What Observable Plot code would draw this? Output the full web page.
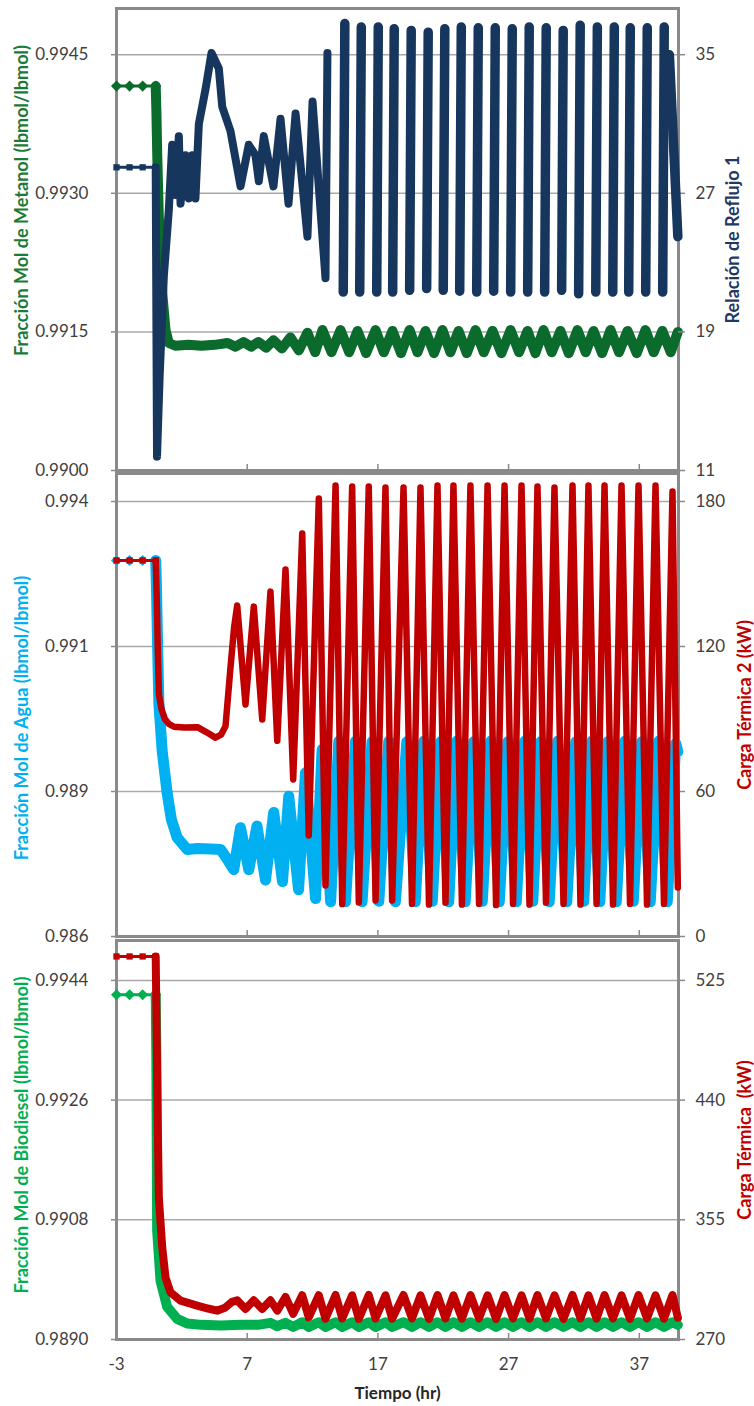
<!DOCTYPE html>
<html><head><meta charset="utf-8">
<script src="https://cdn.jsdelivr.net/npm/d3@7"></script>
<script src="https://cdn.jsdelivr.net/npm/@observablehq/plot@0.6"></script>
<style>
body{margin:0;background:#fff;}
#chart{position:relative;width:754px;height:1406px;}
#chart svg{position:absolute;left:0;}
</style></head><body><div id="chart"></div>
<script>
// ---------- shared axis values ----------
const xDomain = [-3, 40];
const xTicks = [-3, 7, 17, 27, 37];
const xInnerTicks = [7, 17, 27, 37];

// ---------- panel 1 : metanol / reflujo ----------
const metanolTicks = [0.99, 0.9915, 0.993, 0.9945];
const reflujoTicks = [11, 19, 27, 35];
const metanolInit = [[-3,0.99416],[-2,0.99416],[-1,0.99416],[0,0.99416]];
const metanol = [[0,0.99416],[0.05,0.9939],[0.12,0.9934],[0.24,0.99274],[0.5,0.99192],[0.75,0.99152],[1.0,0.99138],[1.5,0.99135],[2.5,0.99136],[3.5,0.99135],[4.5,0.99136],[5.5,0.99138],[6.1,0.99134],[6.72,0.99139],[7.3,0.99134],[7.86,0.99139],[8.45,0.99133],[9.01,0.99141],[9.65,0.99132],[10.31,0.99144],[10.95,0.9913],[11.61,0.99149],[12.2,0.99128],[12.76,0.99152],[13.45,0.99128],[14.14,0.99152],[14.8,0.99128],[15.44,0.99151],[16.1,0.99127],[16.82,0.99152],[17.45,0.99128],[18.12,0.99151],[18.77,0.99127],[19.42,0.99152],[20.03,0.99128],[20.64,0.99151],[21.3,0.99127],[21.94,0.99152],[22.55,0.99128],[23.17,0.99151],[23.8,0.99127],[24.47,0.99152],[25.1,0.99128],[25.77,0.99151],[26.45,0.99127],[27.15,0.99152],[27.8,0.99128],[28.45,0.99151],[29.05,0.99127],[29.67,0.99152],[30.3,0.99128],[30.97,0.99151],[31.6,0.99127],[32.27,0.99152],[32.9,0.99128],[33.5,0.99151],[34.15,0.99127],[34.8,0.99152],[35.45,0.99128],[36.1,0.99151],[36.8,0.99127],[37.47,0.99152],[38.1,0.99128],[38.77,0.99151],[39.4,0.99128],[39.95,0.9915]];
const reflujoInit = [[-3,28.5],[-2,28.5],[-1,28.5],[0,28.5]];
const reflujo = [[0,28.5],[0.05,20.0],[0.1,11.8],[0.3,16.4],[0.62,22.2],[1.0,26.0],[1.26,29.8],[1.51,26.9],[1.77,30.3],[1.9,26.4],[2.28,29.2],[2.53,26.7],[2.79,29.2],[3.04,26.7],[3.3,31.0],[3.81,33.0],[4.27,35.1],[4.83,34.2],[5.09,32.0],[5.72,30.6],[6.49,27.4],[7.12,29.8],[7.63,29.2],[7.89,27.7],[8.27,30.3],[9.01,27.4],[9.55,31.3],[10.16,26.4],[10.7,31.6],[11.61,24.5],[12.0,32.3],[12.99,22.1],[13.14,35.1]];
// [time at top, peak, time at bottom, trough] of each reflux stroke
const reflujoStrokes = [[14.47,36.8,14.35,21.3],[15.73,36.6,15.61,21.3],[17.03,36.6,16.91,21.3],[18.25,36.5,18.13,21.3],[19.55,36.4,19.43,21.4],[20.85,36.3,20.73,21.5],[22.12,36.5,22.0,21.4],[23.38,36.6,23.26,21.35],[24.68,36.55,24.56,21.3],[25.98,36.55,25.86,21.35],[27.28,36.5,27.16,21.3],[28.58,36.6,28.46,21.3],[29.88,36.55,29.76,21.3],[31.18,36.4,31.06,21.4],[32.48,36.7,32.36,21.2],[33.79,36.6,33.67,21.3],[35.09,36.6,34.97,21.3],[36.31,36.55,36.19,21.3],[37.61,36.55,37.49,21.3],[38.91,36.6,38.79,21.3],[39.3,35.0,39.95,24.5]];

// ---------- panel 2 : agua / carga termica 2 ----------
const aguaTicks = [0.986, 0.9886667, 0.9913333, 0.994];
const carga2Ticks = [0, 60, 120, 180];
const aguaInit = [[-3,0.992915],[-2,0.992915],[-1,0.992915],[0,0.992915]];
const agua = [[0,0.992915],[0.05,0.9925],[0.15,0.9913],[0.24,0.99029],[0.5,0.9894],[0.88,0.98863],[1.2,0.98815],[1.64,0.98782],[2.41,0.9876],[3.2,0.98762],[4.2,0.98761],[4.96,0.9876],[5.4,0.98745],[5.97,0.98723],[6.49,0.988],[7.12,0.98723],[7.75,0.98803],[8.4,0.98704],[9.03,0.98828],[9.7,0.98701],[10.18,0.98858],[10.93,0.98686],[11.46,0.98901],[12.23,0.9867],[12.73,0.98944],[13.38,0.98664],[14.01,0.98959],[14.52,0.98664],[15.28,0.98959],[15.79,0.98664],[16.55,0.98958],[17.07,0.98665],[17.83,0.98959],[18.34,0.98664],[19.21,0.98958],[19.86,0.98664],[20.51,0.98959],[21.16,0.98665],[21.81,0.98958],[22.42,0.98664],[23.03,0.98959],[23.68,0.98664],[24.33,0.98958],[24.99,0.98665],[25.64,0.98959],[26.29,0.98664],[26.94,0.98958],[27.59,0.98664],[28.24,0.98959],[28.85,0.98665],[29.46,0.98958],[30.11,0.98664],[30.76,0.98959],[31.45,0.98664],[32.14,0.98958],[32.75,0.98665],[33.36,0.98959],[33.98,0.98664],[34.59,0.98958],[35.24,0.98664],[35.89,0.98959],[36.54,0.98665],[37.19,0.98958],[37.84,0.98664],[38.49,0.98959],[39.14,0.98664],[39.79,0.98955],[39.95,0.9894]];
const carga2Init = [[-3,155.6],[-2,155.6],[-1,155.6],[0,155.6]];
const carga2 = [[0,155.6],[0.08,140],[0.16,118],[0.25,100],[0.45,94],[0.7,90],[1.0,88],[1.4,86.8],[2.2,86.5],[3.2,86.6],[3.9,84.5],[4.57,82.3],[5.0,83.5],[5.34,87],[5.7,110],[6.0,128],[6.235,137.0],[6.87,96.0],[7.505,136.5],[8.15,89.8],[8.78,142.7],[9.3,81.0],[9.93,151.9],[10.52,65.0],[11.21,166.8],[11.71,41.8],[12.48,181.2],[12.99,21.1],[13.76,186.6],[14.27,13.4],[15.03,186.2],[15.54,14.1],[16.3,186.2],[16.82,14.9],[17.58,185.8],[18.09,14.9],[18.96,185.8],[19.61,13.5],[20.26,185.8],[20.91,13.2],[21.56,186.6],[22.17,14.0],[22.78,186.6],[23.43,13.2],[24.08,186.6],[24.74,13.5],[25.39,186.6],[26.04,13.0],[26.69,186.6],[27.34,13.5],[27.99,186.6],[28.6,13.2],[29.21,186.2],[29.86,14.0],[30.51,185.8],[31.2,13.5],[31.89,186.6],[32.5,13.2],[33.11,186.6],[33.73,13.5],[34.34,186.6],[34.99,13.2],[35.64,186.6],[36.29,13.5],[36.94,186.6],[37.59,13.2],[38.24,186.6],[38.89,13.5],[39.54,184.1],[39.95,20.3]];

// ---------- panel 3 : biodiesel / carga termica ----------
const biodieselTicks = [0.989, 0.9908, 0.9926, 0.9944];
const cargaTicks = [270, 355, 440, 525];
const biodieselInit = [[-3,0.994185],[-2,0.994185],[-1,0.994185],[0,0.994185]];
const biodiesel = [[0,0.994185],[0.05,0.9932],[0.11,0.99064],[0.37,0.98988],[0.88,0.98949],[1.64,0.98931],[2.41,0.98924],[3.5,0.98922],[5.0,0.98921],[6.5,0.98922],[7.8,0.98922],[8.78,0.98925],[9.3,0.9892],[9.93,0.98925],[10.52,0.98919],[11.21,0.98926],[11.71,0.98919],[12.48,0.98926],[12.99,0.98919],[13.76,0.98926],[14.27,0.98919],[15.03,0.98926],[15.54,0.98919],[16.3,0.98926],[16.82,0.98919],[17.58,0.98926],[18.09,0.98919],[18.96,0.98926],[19.61,0.98919],[20.26,0.98926],[20.91,0.98919],[21.56,0.98926],[22.17,0.98919],[22.78,0.98926],[23.43,0.98919],[24.08,0.98926],[24.74,0.98919],[25.39,0.98926],[26.04,0.98919],[26.69,0.98926],[27.34,0.98919],[27.99,0.98926],[28.6,0.98919],[29.21,0.98926],[29.86,0.98919],[30.51,0.98926],[31.2,0.98919],[31.89,0.98926],[32.5,0.98919],[33.11,0.98926],[33.73,0.98919],[34.34,0.98926],[34.99,0.98919],[35.64,0.98926],[36.29,0.98919],[36.94,0.98926],[37.59,0.98919],[38.24,0.98926],[38.89,0.98919],[39.54,0.98926],[39.95,0.98922]];
const cargaInit = [[-3,542],[-2,542],[-1,542],[0,542]];
const carga = [[0,542],[0.08,480],[0.16,420],[0.24,370.6],[0.5,335.4],[0.75,314.1],[1.13,303.5],[1.9,297.6],[3.17,294.1],[4.0,292.0],[4.7,290.5],[5.3,292.5],[5.8,296.5],[6.235,297.8],[6.87,291.7],[7.505,297.8],[8.15,291.7],[8.78,297.8],[9.3,290.5],[9.93,300.2],[10.52,288.2],[11.21,301.4],[11.71,285.8],[12.48,301.4],[12.99,284.8],[13.76,301.6],[14.27,285.0],[15.03,301.4],[15.54,284.6],[16.3,301.6],[16.82,285.0],[17.58,301.4],[18.09,284.8],[18.96,301.6],[19.61,285.0],[20.26,301.4],[20.91,284.6],[21.56,301.6],[22.17,285.0],[22.78,301.4],[23.43,284.8],[24.08,301.6],[24.74,285.0],[25.39,301.4],[26.04,284.6],[26.69,301.6],[27.34,285.0],[27.99,301.4],[28.6,284.8],[29.21,301.6],[29.86,285.0],[30.51,301.4],[31.2,284.6],[31.89,301.6],[32.5,285.0],[33.11,301.4],[33.73,284.8],[34.34,301.6],[34.99,285.0],[35.64,301.4],[36.29,284.6],[36.94,301.6],[37.59,285.0],[38.24,301.4],[38.89,284.8],[39.54,301.6],[39.95,285.5]];

// ---------- styling / layout ----------
const W = 754, ML = 116, MR = 76;
const FONT = "Lato, 'Open Sans', sans-serif";
const AXIS = "#8a8a8a", GRID = "#a9a9a9", TXT = "#404040";
const X = d => d[0], Y = d => d[1];

const panels = [
  {top: 0, height: 478, mt: 8, mb: 8,
   leftDomain: [0.99, 0.995], leftTicks: metanolTicks, leftFmt: ".4f",
   leftInit: metanolInit, leftData: metanol, leftColor: "#0b6b2c", leftWidth: 10, leftSymbol: "diamond2",
   leftTitle: "Fracción Mol de Metanol (lbmol/lbmol)", leftTitleColor: "#1b7a35", leftDy: -39,
   rightDomain: [11, 37.667], rightTicks: reflujoTicks,
   rightInit: reflujoInit, rightData: reflujo, rightColor: "#17365d", rightWidth: 8, strokeWidth: 9.5, rightSymbol: "square2",
   rightTitle: "Relación de Reflujo 1", rightTitleColor: "#1f3864", rightDx: 55,
   strokes: reflujoStrokes},
  {top: 465, height: 479, mt: 8, mb: 8,
   leftDomain: [0.986, 0.994515], leftTicks: aguaTicks, leftFmt: ".3f",
   leftInit: aguaInit, leftData: agua, leftColor: "#00b0f0", leftWidth: 11, leftSymbol: "diamond2",
   leftTitle: "Fracción Mol de Agua (lbmol/lbmol)", leftTitleColor: "#00b0f0", leftDy: 13,
   rightDomain: [0, 191.58], rightTicks: carga2Ticks,
   rightInit: carga2Init, rightData: carga2, rightColor: "#c00000", rightWidth: 6.5, rightSymbol: "square2",
   rightTitle: "Carga Térmica 2 (kW)", rightTitleColor: "#c00000", rightDx: 67},
  {top: 932, height: 474, mt: 8, mb: 67,
   leftDomain: [0.989, 0.995], leftTicks: biodieselTicks, leftFmt: ".4f",
   leftInit: biodieselInit, leftData: biodiesel, leftColor: "#00b050", leftWidth: 10, leftSymbol: "diamond2",
   leftTitle: "Fracción Mol de Biodiesel (lbmol/lbmol)", leftTitleColor: "#00b050", leftDy: -5,
   rightDomain: [270, 553.33], rightTicks: cargaTicks,
   rightInit: cargaInit, rightData: carga, rightColor: "#c00000", rightWidth: 8, rightSymbol: "square2",
   rightTitle: "Carga Térmica\u00a0 (kW)", rightTitleColor: "#c00000", rightDx: 67,
   xLabels: true}
];

const chart = document.getElementById("chart");
for (const p of panels) {
  const plotH = p.height - p.mt - p.mb;
  const plotW = W - ML - MR;
  const common = {
    width: W, height: p.height, marginLeft: ML, marginRight: MR, marginTop: p.mt, marginBottom: p.mb,
    x: {domain: xDomain, axis: null},
    style: {background: "transparent", fontFamily: FONT, overflow: "visible"}
  };
  const leftMarks = [
    Plot.gridY(p.leftTicks, {stroke: GRID, strokeOpacity: 1, strokeWidth: 1.5}),
    Plot.ruleY(p.leftTicks, {stroke: AXIS, strokeWidth: 1.5, insetRight: plotW - 5, dx: -5}),
    Plot.ruleX(xInnerTicks, {stroke: AXIS, strokeWidth: 1.5, insetTop: plotH - 6}),
    Plot.axisY(p.leftTicks, {anchor: "left", tickSize: 0, tickPadding: 28, tickFormat: d3.format(p.leftFmt), fontSize: 17, fill: TXT, label: null}),
    Plot.frame({stroke: AXIS, strokeWidth: 3}),
    Plot.line(p.leftInit, {x: X, y: Y, stroke: p.leftColor, strokeWidth: 3}),
    Plot.dot(p.leftInit, {x: X, y: Y, symbol: p.leftSymbol, fill: p.leftColor, r: 5}),
    Plot.line(p.leftData, {x: X, y: Y, stroke: p.leftColor, strokeWidth: p.leftWidth, strokeLinejoin: "round", strokeLinecap: "round"}),
    Plot.text([p.leftTitle], {text: d => d, frameAnchor: "left", rotate: -90, dx: -94, dy: p.leftDy, textAnchor: "middle", lineAnchor: "middle", fontSize: 18, fontWeight: "bold", fill: p.leftTitleColor})
  ];
  if (p.xLabels) {
    leftMarks.push(
      Plot.axisX(xTicks, {anchor: "bottom", tickSize: 0, tickPadding: 18, tickFormat: d => String(d), fontSize: 17, fill: TXT, label: null}),
      Plot.text(["Tiempo (hr)"], {text: d => d, frameAnchor: "bottom", dy: 54, textAnchor: "middle", lineAnchor: "middle", fontSize: 17, fontWeight: "bold", fill: "#262626"})
    );
  }
  const left = Plot.plot({...common, y: {domain: p.leftDomain, axis: null}, marks: leftMarks});

  const rightMarks = [
    Plot.ruleY(p.rightTicks, {stroke: AXIS, strokeWidth: 1.5, insetLeft: plotW - 7, dx: 7}),
    Plot.axisY(p.rightTicks, {anchor: "right", tickSize: 0, tickPadding: 17, tickFormat: d => String(d), fontSize: 17, fill: TXT, label: null}),
    Plot.line(p.rightInit, {x: X, y: Y, stroke: p.rightColor, strokeWidth: 3}),
    Plot.dot(p.rightInit, {x: X, y: Y, symbol: p.rightSymbol, fill: p.rightColor, r: 4}),
    Plot.line(p.rightData, {x: X, y: Y, stroke: p.rightColor, strokeWidth: p.rightWidth, strokeLinejoin: "round", strokeLinecap: "round"})
  ];
  if (p.strokes) {
    rightMarks.push(Plot.link(p.strokes, {x1: d => d[0], y1: d => d[1], x2: d => d[2], y2: d => d[3], stroke: p.rightColor, strokeWidth: p.strokeWidth, strokeLinecap: "round"}));
  }
  rightMarks.push(Plot.text([p.rightTitle], {text: d => d, frameAnchor: "right", rotate: -90, dx: p.rightDx, dy: 0, textAnchor: "middle", lineAnchor: "middle", fontSize: 18, fontWeight: "bold", fill: p.rightTitleColor}));
  const right = Plot.plot({...common, y: {domain: p.rightDomain, axis: null}, marks: rightMarks});

  left.style.top = p.top + "px";
  right.style.top = p.top + "px";
  chart.appendChild(left);
  chart.appendChild(right);
}
</script></body></html>
